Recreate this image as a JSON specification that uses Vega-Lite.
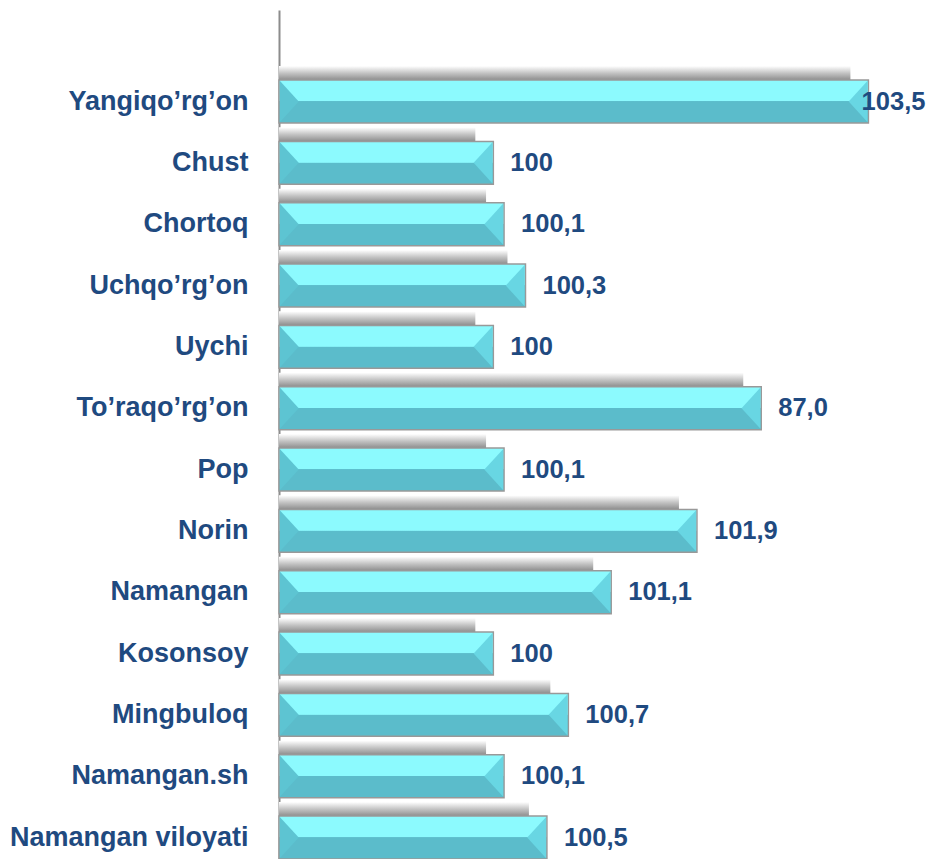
{
  "$schema": "https://vega.github.io/schema/vega-lite/v6.json",
  "width": 643,
  "height": 849,
  "autosize": "none",
  "padding": {"left": 279, "top": 10, "right": 6, "bottom": 0},
  "background": "white",
  "config": {"view": {"stroke": null}},
  "data": {
    "values": [
      {"name": "Yangiqo’rg’on", "value": 103.5, "label": "103,5"},
      {"name": "Chust", "value": 100, "label": "100"},
      {"name": "Chortoq", "value": 100.1, "label": "100,1"},
      {"name": "Uchqo’rg’on", "value": 100.3, "label": "100,3"},
      {"name": "Uychi", "value": 100, "label": "100"},
      {"name": "To’raqo’rg’on", "value": 102.5, "label": "87,0"},
      {"name": "Pop", "value": 100.1, "label": "100,1"},
      {"name": "Norin", "value": 101.9, "label": "101,9"},
      {"name": "Namangan", "value": 101.1, "label": "101,1"},
      {"name": "Kosonsoy", "value": 100, "label": "100"},
      {"name": "Mingbuloq", "value": 100.7, "label": "100,7"},
      {"name": "Namangan.sh", "value": 100.1, "label": "100,1"},
      {"name": "Namangan viloyati", "value": 100.5, "label": "100,5"}
    ]
  },
  "encoding": {
    "y": {
      "field": "name",
      "type": "nominal",
      "sort": null,
      "scale": {"paddingInner": 0.3, "paddingOuter": 0.571, "align": 1},
      "axis": {
        "title": null,
        "ticks": false,
        "labelPadding": 31,
        "labelFont": "Arial, Liberation Sans",
        "labelFontSize": 27,
        "labelFontWeight": "bold",
        "labelColor": "#1F4A80",
        "labelLimit": 400,
        "domainColor": "#8C8C8C",
        "domainWidth": 2
      }
    }
  },
  "layer": [
    {
      "mark": {
        "type": "bar",
        "height": 14,
        "yOffset": -28.5,
        "xOffset": -18,
        "color": {
          "gradient": "linear", "x1": 0, "y1": 0, "x2": 0, "y2": 1,
          "stops": [
            {"offset": 0, "color": "#ffffff"},
            {"offset": 0.5, "color": "#c4c4c4"},
            {"offset": 1, "color": "#8e8e8e"}
          ]
        }
      },
      "encoding": {
        "x": {"field": "value", "type": "quantitative", "scale": {"domain": [98, 104]}, "axis": null},
        "x2": {"datum": 98}
      }
    },
    {
      "mark": {
        "type": "bar",
        "stroke": "#999999",
        "strokeWidth": 1.5,
        "color": {
          "gradient": "linear", "x1": 0, "y1": 0, "x2": 0, "y2": 1,
          "stops": [
            {"offset": 0, "color": "#8CFAFE"},
            {"offset": 0.49, "color": "#8CFAFE"},
            {"offset": 0.5, "color": "#5BBCCB"},
            {"offset": 1, "color": "#5BBCCB"}
          ]
        }
      },
      "encoding": {
        "x": {"field": "value", "type": "quantitative", "scale": {"domain": [98, 104]}, "axis": null},
        "x2": {"datum": 98}
      }
    },
    {
      "mark": {
        "type": "point",
        "shape": "M0,-0.96L0.88,0L0,0.96Z",
        "size": 1849,
        "filled": true,
        "opacity": 1,
        "color": "#5DC4D2",
        "xOffset": 0.8
      },
      "encoding": {
        "x": {"datum": 98, "type": "quantitative", "scale": {"domain": [98, 104]}, "axis": null}
      }
    },
    {
      "mark": {
        "type": "point",
        "shape": "M0,-0.96L-0.88,0L0,0.96Z",
        "size": 1849,
        "filled": true,
        "opacity": 1,
        "color": "#68D6E3",
        "xOffset": -0.8
      },
      "encoding": {
        "x": {"field": "value", "type": "quantitative", "scale": {"domain": [98, 104]}, "axis": null}
      }
    },
    {
      "transform": [{"filter": "datum.value < 103"}],
      "mark": {
        "type": "text",
        "align": "left",
        "baseline": "middle",
        "dx": 17,
        "font": "Arial, Liberation Sans",
        "fontSize": 25.5,
        "fontWeight": "bold",
        "color": "#1F4A80"
      },
      "encoding": {
        "x": {"field": "value", "type": "quantitative", "scale": {"domain": [98, 104]}, "axis": null},
        "text": {"field": "label"}
      }
    },
    {
      "transform": [{"filter": "datum.value >= 103"}],
      "mark": {
        "type": "text",
        "align": "right",
        "baseline": "middle",
        "dx": 57,
        "font": "Arial, Liberation Sans",
        "fontSize": 25.5,
        "fontWeight": "bold",
        "color": "#1F4A80"
      },
      "encoding": {
        "x": {"field": "value", "type": "quantitative", "scale": {"domain": [98, 104]}, "axis": null},
        "text": {"field": "label"}
      }
    }
  ]
}
